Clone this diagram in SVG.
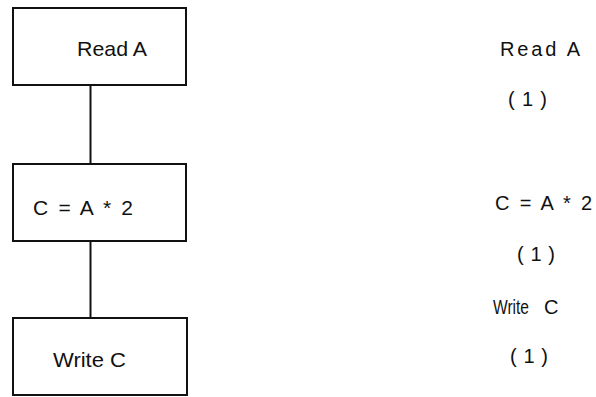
<svg xmlns="http://www.w3.org/2000/svg" width="596" height="397" viewBox="0 0 596 397">
<style>
.box{fill:#fff;stroke:#111;stroke-width:2}
.conn{stroke:#111;stroke-width:2;fill:none}
.t{font-family:"Liberation Sans",Arial,sans-serif;font-size:21px;fill:#111}
.r{font-family:"Liberation Sans",Arial,sans-serif;font-size:20px;fill:#111}
</style>
<rect width="596" height="397" fill="#fff"/>
<g id="connectors">
<line class="conn" x1="90.5" y1="85" x2="90.5" y2="164"/>
<line class="conn" x1="90.5" y1="241" x2="90.5" y2="318"/>
</g>
<g id="node-read">
<rect class="box" x="13" y="8" width="173" height="77"/>
<text class="t" x="77" y="56" textLength="70" lengthAdjust="spacingAndGlyphs">Read A</text>
</g>
<g id="node-calc">
<rect class="box" x="13" y="164" width="173" height="77"/>
<text class="t" x="33" y="215" textLength="100" lengthAdjust="spacing">C = A * 2</text>
</g>
<g id="node-write">
<rect class="box" x="13" y="318" width="174" height="77"/>
<text class="t" x="53" y="367" textLength="73" lengthAdjust="spacingAndGlyphs">Write C</text>
</g>
<g id="annotations">
<text class="r" x="500" y="56" textLength="80" lengthAdjust="spacing">Read A</text>
<text class="r" x="508" y="106" textLength="39" lengthAdjust="spacing">( 1 )</text>
<text class="r" x="495" y="210" textLength="97" lengthAdjust="spacing">C = A * 2</text>
<text class="r" x="517" y="261" textLength="38" lengthAdjust="spacing">( 1 )</text>
<text class="r" x="493" y="314"><tspan textLength="36" lengthAdjust="spacingAndGlyphs">Write</tspan><tspan x="544">C</tspan></text>
<text class="r" x="510" y="363" textLength="38" lengthAdjust="spacing">( 1 )</text>
</g>
</svg>
